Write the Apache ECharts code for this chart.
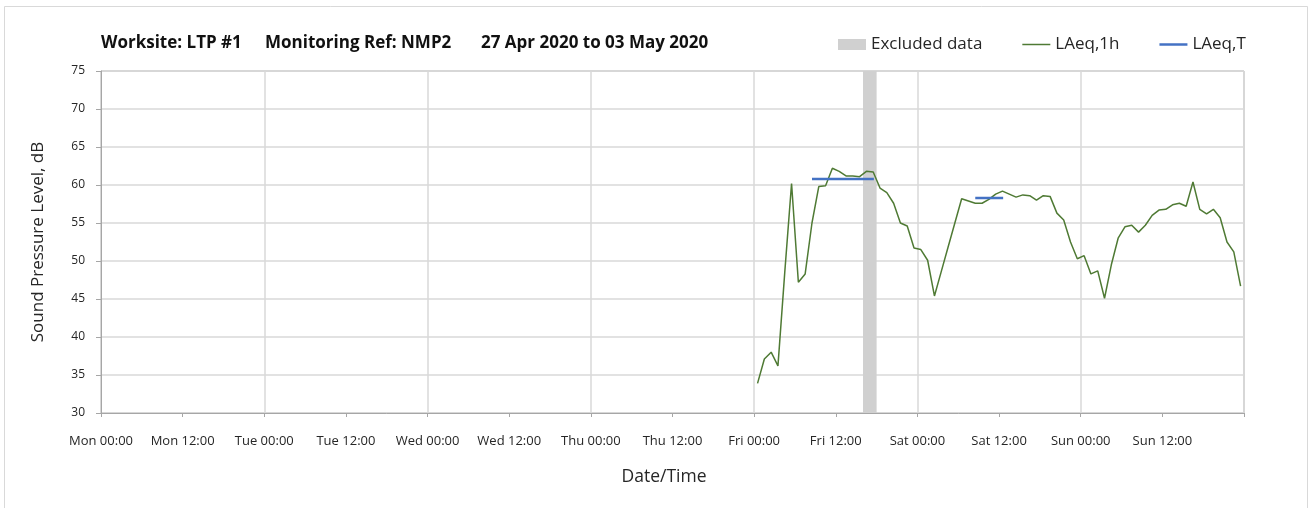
<!DOCTYPE html>
<html>
<head>
<meta charset="utf-8">
<script src="https://cdn.jsdelivr.net/npm/echarts@6/dist/echarts.min.js"></script>
<style>
  html, body { margin: 0; padding: 0; background: #fff; }
  #chart { width: 1309px; height: 508px; }
</style>
</head>
<body>
<div id="chart"></div>
<script>
// ---- Data (hours measured from Mon 00:00) ----
var xTickLabels = ['Mon 00:00','Mon 12:00','Tue 00:00','Tue 12:00','Wed 00:00','Wed 12:00',
                   'Thu 00:00','Thu 12:00','Fri 00:00','Fri 12:00','Sat 00:00','Sat 12:00',
                   'Sun 00:00','Sun 12:00'];
var firstHour = 96.5; // Fri 00:30, hourly samples after that
var friLAeq1h = [33.9, 37.1, 38.0, 36.2, 48.5, 60.2, 47.2, 48.3, 55.0, 59.8, 59.9, 62.2,
                 61.8, 61.2, 61.2, 61.1, 61.8, 61.7, 59.6, 59.0, 57.6, 55.0, 54.6, 51.7];
var satLAeq1h = [51.5, 50.1, 45.4, 48.6, 51.8, 55.0, 58.2, 57.9, 57.6, 57.6, 58.1, 58.8,
                 59.2, 58.8, 58.4, 58.7, 58.6, 58.0, 58.6, 58.5, 56.3, 55.4, 52.5, 50.3];
var sunLAeq1h = [50.7, 48.3, 48.7, 45.1, 49.5, 53.0, 54.5, 54.7, 53.8, 54.7, 56.0, 56.7,
                 56.8, 57.4, 57.6, 57.2, 60.4, 56.8, 56.2, 56.8, 55.7, 52.5, 51.2, 46.7];
var laeqTStart = [104.5, 128.5];
var laeqTEnd   = [113.6, 132.6];
var laeqTLevel = [60.8, 58.3];
var excludedStart = [112];
var excludedEnd   = [114];

// ---- Build series data ----
var hourly = friLAeq1h.concat(satLAeq1h, sunLAeq1h);
var lineData = hourly.map(function (v, i) { return [firstHour + i, v]; });
var tData = [];
laeqTLevel.forEach(function (lv, i) {
  if (i > 0) tData.push([laeqTStart[i] - 1, null]);
  tData.push([laeqTStart[i], lv]);
  tData.push([laeqTEnd[i], lv]);
});
var excludedAreas = excludedStart.map(function (s, i) {
  return [{ xAxis: s }, { xAxis: excludedEnd[i] }];
});

var FONT = '"Open Sans", "Noto Sans", sans-serif';
var TXT = '#262626';
var titleStyle = { fontFamily: FONT, fontSize: 17, fontWeight: 'bold', color: '#111' };
var chart = echarts.init(document.getElementById('chart'), null, { renderer: 'canvas' });
chart.setOption({
  animation: false,
  backgroundColor: '#ffffff',
  textStyle: { fontFamily: FONT },
  graphic: [{
    type: 'rect', silent: true, z: -10,
    shape: { x: 4.5, y: 6.5, width: 1303, height: 520 },
    style: { fill: 'none', stroke: '#d9d9d9', lineWidth: 1 }
  }],
  title: [
    { text: 'Worksite: LTP #1', left: 96, top: 30, textStyle: titleStyle },
    { text: 'Monitoring Ref: NMP2', left: 260, top: 30, textStyle: titleStyle },
    { text: '27 Apr 2020 to 03 May 2020', left: 476, top: 30, textStyle: titleStyle }
  ],
  legend: {
    left: 833, top: 31,
    itemWidth: 28, itemHeight: 11, itemGap: 40, symbolKeepAspect: true,
    textStyle: { fontFamily: FONT, fontSize: 17, color: TXT },
    data: [
      { name: 'Excluded data', icon: 'rect' },
      { name: 'LAeq,1h', icon: 'path://M0,0 L28,0 L28,1.5 L0,1.5 Z' },
      { name: 'LAeq,T', icon: 'path://M0,0 L28,0 L28,2.5 L0,2.5 Z' }
    ]
  },
  grid: {
    left: 101, right: 65, top: 71, bottom: 95,
    show: true, borderColor: '#a6a6a6', borderWidth: 1, backgroundColor: 'transparent'
  },
  xAxis: [{
    type: 'value', min: 0, max: 168, interval: 12,
    name: 'Date/Time', nameLocation: 'middle', nameGap: 55,
    nameTextStyle: { fontFamily: FONT, fontSize: 17.5, color: TXT, padding: [0, 17, 0, 0] },
    axisLine: { show: true, lineStyle: { color: '#a6a6a6', width: 1 } },
    axisTick: { show: true, inside: false, length: 4, lineStyle: { color: '#a6a6a6' } },
    axisLabel: {
      margin: 22, fontSize: 13, color: TXT, fontFamily: FONT,
      formatter: function (v) { return xTickLabels[Math.round(v / 12)] || ''; }
    },
    splitLine: { show: false }
  }, {
    type: 'value', min: 0, max: 168, interval: 24, position: 'top',
    axisLine: { show: false }, axisTick: { show: false }, axisLabel: { show: false },
    splitLine: { show: true, lineStyle: { color: '#d9d9d9', width: 1.5 } }
  }],
  yAxis: {
    type: 'value', min: 30, max: 75, interval: 5,
    name: 'Sound Pressure Level, dB', nameLocation: 'middle', nameGap: 54,
    nameTextStyle: { fontFamily: FONT, fontSize: 17, color: TXT },
    axisLine: { show: true, lineStyle: { color: '#a6a6a6', width: 1 } },
    axisTick: { show: true, inside: false, length: 5, lineStyle: { color: '#a6a6a6' } },
    axisLabel: { margin: 16, fontSize: 12, color: TXT, fontFamily: FONT },
    splitLine: { show: true, lineStyle: { color: '#d9d9d9', width: 1.5 } }
  },
  series: [{
    name: 'Excluded data', type: 'line', data: [], z: 1,
    itemStyle: { color: '#d0d0d0' },
    lineStyle: { color: '#d0d0d0' },
    markArea: { silent: true, itemStyle: { color: '#d0d0d0' }, data: excludedAreas }
  }, {
    name: 'LAeq,1h', type: 'line', data: lineData, z: 3,
    showSymbol: false, symbol: 'none',
    itemStyle: { color: '#4f7a34' },
    lineStyle: { color: '#4f7a34', width: 1.5 }
  }, {
    name: 'LAeq,T', type: 'line', data: tData, z: 4,
    showSymbol: false, symbol: 'none', connectNulls: false,
    itemStyle: { color: '#4472c4' },
    lineStyle: { color: '#4472c4', width: 2.5 }
  }]
});
</script>
</body>
</html>
